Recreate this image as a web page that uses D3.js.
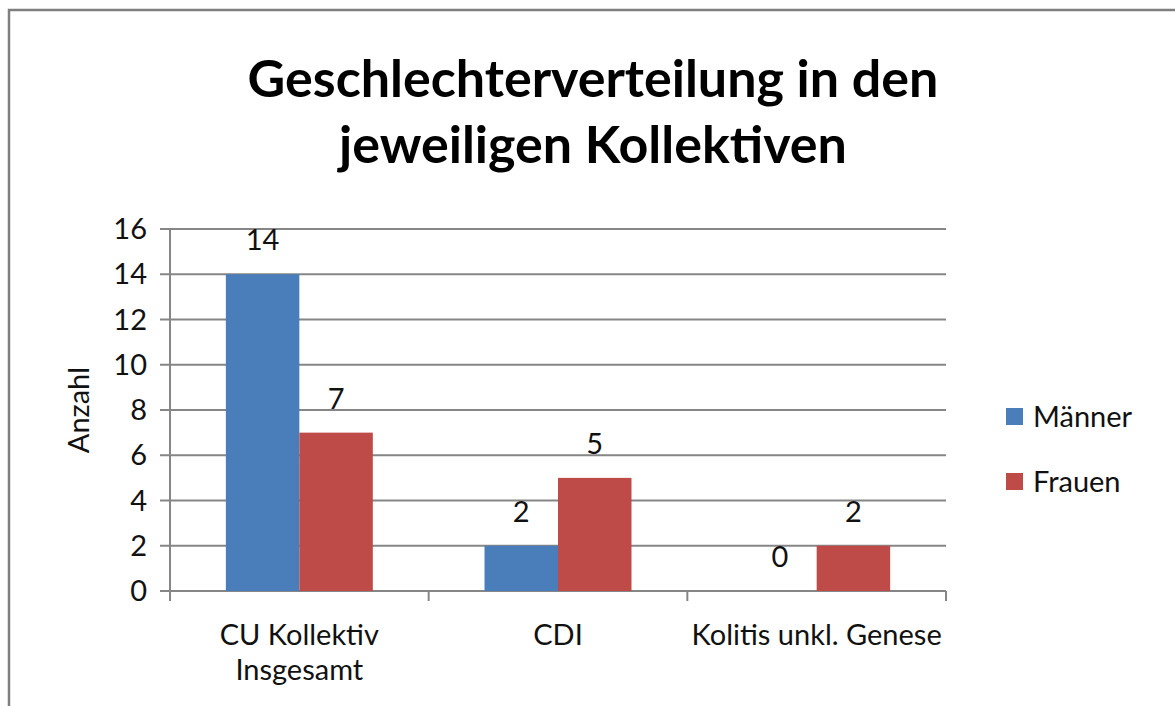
<!DOCTYPE html>
<html>
<head>
<meta charset="utf-8">
<script src="https://cdn.jsdelivr.net/npm/d3@7"></script>
<style>
  body { margin: 0; background: #fff; }
  svg { display: block; font-family: Lato, "Open Sans", sans-serif; }
</style>
</head>
<body>
<div id="chart"></div>
<script>
const categories = [["CU Kollektiv", "Insgesamt"], ["CDI"], ["Kolitis unkl. Genese"]];
const seriesNames = ["Männer", "Frauen"];
const maenner = [14, 2, 0];
const frauen = [7, 5, 2];
const yTicks = [0, 2, 4, 6, 8, 10, 12, 14, 16];
const colors = ["#4a7ebb", "#be4b48"];

const width = 1175, height = 706;
const margin = {top: 229, right: 229, bottom: 115, left: 170};
const fs = "29px";

let svg = d3.select("#chart")
            .append("svg")
            .attr("width", width)
            .attr("height", height);

// frame
svg.append("path")
   .attr("d", "M 9 706 L 9 10 L 1175 10")
   .style("fill", "none")
   .style("stroke", "#7f7f7f")
   .style("stroke-width", 2.5);

// title
svg.append("text")
   .attr("x", 593).attr("y", 97)
   .attr("text-anchor", "middle")
   .attr("font-size", "52px").attr("font-weight", "bold")
   .text("Geschlechterverteilung in den");
svg.append("text")
   .attr("x", 593).attr("y", 163)
   .attr("text-anchor", "middle")
   .attr("font-size", "52px").attr("font-weight", "bold")
   .text("jeweiligen Kollektiven");

let keys = categories.map(c => c.join(" "));

let x = d3.scaleBand()
          .domain(keys)
          .range([margin.left, width - margin.right]);

let x1 = d3.scaleBand()
           .domain(seriesNames)
           .range([0, x.bandwidth()])
           .paddingOuter(0.76);

let y = d3.scaleLinear()
          .domain([0, 16])
          .range([height - margin.bottom, margin.top]);

// gridlines
svg.append("g")
   .selectAll("line")
   .data(yTicks)
   .enter().append("line")
   .attr("x1", margin.left - 10)
   .attr("x2", width - margin.right)
   .attr("y1", d => y(d))
   .attr("y2", d => y(d))
   .style("stroke", "#868686")
   .style("stroke-width", 2);

// y axis line
svg.append("line")
   .attr("x1", margin.left).attr("x2", margin.left)
   .attr("y1", y(16)).attr("y2", y(0) + 8)
   .style("stroke", "#868686").style("stroke-width", 2);

// y tick labels
svg.append("g")
   .selectAll("text")
   .data(yTicks)
   .enter().append("text")
   .attr("x", margin.left - 23)
   .attr("y", d => y(d))
   .attr("dy", "0.35em")
   .attr("text-anchor", "end")
   .attr("font-size", fs)
   .attr("fill", "#111")
   .text(d => d);

// category ticks
let bounds = [margin.left].concat(keys.map(k => x(k) + x.bandwidth()));
svg.append("g")
   .selectAll("line")
   .data(bounds)
   .enter().append("line")
   .attr("x1", d => d).attr("x2", d => d)
   .attr("y1", y(0)).attr("y2", y(0) + 10)
   .style("stroke", "#868686").style("stroke-width", 2);

// bars
let barData = [];
keys.forEach((k, i) => {
  barData.push({cat: k, s: "Männer", v: maenner[i], c: colors[0]});
  barData.push({cat: k, s: "Frauen", v: frauen[i], c: colors[1]});
});

svg.append("g")
   .selectAll("rect")
   .data(barData)
   .enter().append("rect")
   .attr("x", d => x(d.cat) + x1(d.s))
   .attr("width", x1.bandwidth())
   .attr("y", d => y(d.v))
   .attr("height", d => y(0) - y(d.v))
   .attr("fill", d => d.c);

// value labels
svg.append("g")
   .selectAll("text")
   .data(barData)
   .enter().append("text")
   .attr("x", d => x(d.cat) + x1(d.s) + x1.bandwidth() / 2)
   .attr("y", d => y(d.v) - 34)
   .attr("dy", "0.35em")
   .attr("text-anchor", "middle")
   .attr("font-size", fs)
   .attr("fill", "#111")
   .text(d => d.v);

// category labels
let catG = svg.append("g");
categories.forEach((c, i) => {
  c.forEach((line, j) => {
    catG.append("text")
        .attr("x", x(keys[i]) + x.bandwidth() / 2)
        .attr("y", y(0) + 54 + j * 35)
        .attr("text-anchor", "middle")
        .attr("font-size", fs)
        .attr("fill", "#111")
        .text(line);
  });
});

// y axis title
svg.append("text")
   .attr("transform", "translate(89,410) rotate(-90)")
   .attr("text-anchor", "middle")
   .attr("font-size", fs)
   .attr("fill", "#111")
   .text("Anzahl");

// legend
let legend = svg.append("g");
seriesNames.forEach((s, i) => {
  legend.append("rect")
        .attr("x", 1006).attr("y", 408 + i * 65)
        .attr("width", 17).attr("height", 17)
        .attr("fill", colors[i]);
  legend.append("text")
        .attr("x", 1033).attr("y", 417 + i * 65)
        .attr("dy", "0.35em")
        .attr("font-size", fs)
        .attr("fill", "#111")
        .text(s);
});
</script>
</body>
</html>
